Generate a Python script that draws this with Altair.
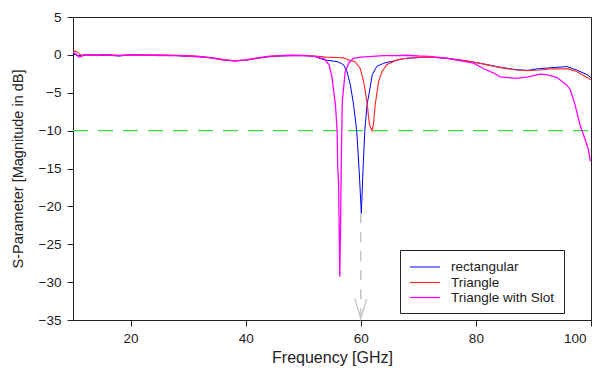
import altair as alt
import pandas as pd

# ---- data ----
rect_x = [10, 11, 12, 14, 16, 18, 20, 22, 25, 28, 30, 32, 34, 36, 38, 40, 42, 44, 46, 48, 50,
          52, 53, 54, 55, 56, 57, 57.6, 58.2, 58.75, 59.3, 59.7, 60.1, 60.4, 60.7, 61.1, 61.4,
          62, 62.8, 64, 65.7, 67.4, 69, 72, 75, 78, 81, 84, 87, 89, 90.6, 93, 95.8, 97.5, 99.3, 100]
rect_y = [0.1, -0.1, 0.0, -0.1, -0.05, -0.15, 0.0, -0.05, -0.1, -0.1, -0.2, -0.25, -0.4, -0.65, -0.8, -0.7, -0.45, -0.25, -0.15, -0.1, -0.1,
          -0.2, -0.5, -0.7, -0.8, -0.9, -1.3, -2.2, -4.0, -6.6, -10.1, -15.0, -20.9, -15.0, -10.0, -6.5, -5.3,
          -2.6, -1.5, -1.1, -0.8, -0.5, -0.4, -0.3, -0.45, -0.75, -1.15, -1.6, -1.95, -2.05, -1.85, -1.7, -1.55, -2.0, -2.6, -3.0]

tri_x = [10, 10.5, 11, 11.5, 12, 14, 16, 18, 20, 22, 25, 28, 30, 32, 34, 36, 38, 40, 42, 44, 46, 48, 50,
         52, 54, 56, 57, 58, 59, 59.9, 60.5, 61.1, 61.5, 61.95, 62.2, 62.5, 63.1, 63.7, 64.5, 66.3, 68,
         70, 72, 75, 78, 81, 84, 87, 89, 91, 93, 96, 97.5, 99.3, 100]
tri_y = [0.4, 0.5, 0.2, -0.1, 0.05, 0.0, 0.05, -0.05, 0.0, 0.0, 0.0, -0.05, -0.1, -0.2, -0.35, -0.6, -0.8, -0.7, -0.45, -0.2, -0.1, -0.05, -0.05,
         -0.15, -0.3, -0.35, -0.4, -0.7, -0.9, -1.8, -3.5, -6.4, -9.2, -10.0, -9.2, -6.6, -3.5, -2.2, -1.3, -0.66, -0.45,
         -0.35, -0.3, -0.45, -0.75, -1.15, -1.65, -2.0, -2.1, -2.0, -1.85, -1.85, -2.2, -3.0, -3.3]

slot_x = [10, 10.5, 11, 11.5, 12, 14, 16, 18, 20, 22, 25, 28, 30, 32, 34, 36, 38, 40, 42, 44, 46, 48, 50,
          52, 53, 53.6, 54.5, 55, 55.6, 55.9, 56.0, 56.15, 56.35, 56.5, 56.65, 56.8, 57.3, 57.9, 58.7,
          60, 62, 64, 66, 68, 70, 72, 74.5, 76.7, 79.6, 81.3, 83.1, 84.2, 87.1, 89, 91.2, 92.3, 94.1,
          95.8, 96.4, 97.2, 98.1, 99.0, 99.55, 99.85, 100]
slot_y = [0.3, 0.1, -0.3, -0.2, 0.0, -0.05, 0.0, -0.1, 0.0, -0.05, -0.05, -0.1, -0.15, -0.25, -0.4, -0.65, -0.8, -0.65, -0.4, -0.2, -0.1, -0.05, -0.1,
          -0.2, -0.4, -0.5, -1.3, -3.0, -6.6, -10.1, -15.0, -17.0, -29.3, -22.0, -12.0, -6.0, -2.2, -1.1, -0.45,
          -0.3, -0.2, -0.1, -0.1, -0.05, -0.15, -0.2, -0.4, -0.7, -1.1, -1.8, -2.4, -2.9, -3.1, -2.9, -2.55, -2.6, -3.0,
          -4.0, -4.6, -6.5, -9.3, -11.2, -12.5, -13.9, -14.0]

series_names = ["rectangular", "Triangle", "Triangle with Slot"]
series_colors = ["#0000ff", "#ff2a2a", "#ff00ff"]
series_widths = [1.0, 1.3, 2.6]

threshold_db = [-10]
marker_x = [60]
marker_y_top = [-20.9]
marker_y_bottom = [-34.7]
arrow_y = [-33.5]

x_ticks = [20, 40, 60, 80, 100]
y_ticks = [5, 0, -5, -10, -15, -20, -25, -30, -35]

# ---- tables ----
rows = []
for name, xs, ys in zip(series_names, [rect_x, tri_x, slot_x], [rect_y, tri_y, slot_y]):
    for i, (xv, yv) in enumerate(zip(xs, ys)):
        rows.append({"series": name, "freq": xv, "s": yv, "i": i})
df = pd.DataFrame(rows)

thr_df = pd.DataFrame({"x1": [10], "x2": [100], "y": threshold_db})
mark_df = pd.DataFrame({"x": marker_x, "y1": marker_y_top, "y2": marker_y_bottom})
arrow_df = pd.DataFrame({"x": marker_x, "y": arrow_y})

xscale = alt.Scale(domain=[10, 100], nice=False, zero=False)
yscale = alt.Scale(domain=[-35, 5], nice=False, zero=False)

font = "Liberation Sans"

x_axis = alt.Axis(values=x_ticks, title="Frequency [GHz]", grid=False, tickSize=6,
                  labelFontSize=13.5, labelFont=font, labelColor="#222", labelPadding=5,
                  labelOverlap=False, labelFlush=True, labelFlushOffset=-5,
                  titleFont=font, titleFontSize=16, titleFontWeight="normal", titleColor="#222",
                  titleY=42, titleBaseline="alphabetic",
                  domainColor="#222", tickColor="#222")
y_axis = alt.Axis(values=y_ticks, title="S-Parameter [Magnitude in dB]", grid=False, tickSize=6,
                  labelFontSize=13.5, labelFont=font, labelColor="#222", labelPadding=6,
                  labelOverlap=False,
                  titleFont=font, titleFontSize=14.5, titleFontWeight="normal", titleColor="#222",
                  titleX=-55, titleY=151.5, titleAngle=270, titleAlign="center",
                  titleBaseline="middle", domainColor="#222", tickColor="#222")

thr = alt.Chart(thr_df).mark_rule(color="#3ddc3d", strokeWidth=1.2, strokeDash=[15, 10]).encode(
    x=alt.X("x1:Q", scale=xscale, axis=x_axis), x2="x2:Q",
    y=alt.Y("y:Q", scale=yscale, axis=y_axis))

vline = alt.Chart(mark_df).mark_rule(color="#c4c4c4", strokeWidth=1.5, strokeDash=[10, 9]).encode(
    x=alt.X("x:Q", scale=xscale, axis=x_axis), y=alt.Y("y1:Q", scale=yscale, axis=y_axis), y2="y2:Q")

arrow = alt.Chart(arrow_df).mark_point(shape="M-0.6,-1L0,1L0.6,-1", size=400, filled=False,
                                       color="#c4c4c4", strokeWidth=1.3, opacity=1).encode(
    x=alt.X("x:Q", scale=xscale, axis=x_axis), y=alt.Y("y:Q", scale=yscale, axis=y_axis))

legend_cfg = dict(title=None, orient="none", legendX=327, legendY=233,
                  symbolType="M-1,0L3,0", symbolSize=225, labelFont=font,
                  labelFontSize=13.5, labelColor="#222", labelOffset=25,
                  padding=9, rowPadding=0, strokeColor="#222",
                  fillColor="white", labelLimit=300)

lines = alt.Chart(df).mark_line(clip=True).encode(
    x=alt.X("freq:Q", scale=xscale, axis=x_axis),
    y=alt.Y("s:Q", scale=yscale, axis=y_axis),
    order="i:Q",
    color=alt.Color("series:N", scale=alt.Scale(domain=series_names, range=series_colors),
                    legend=alt.Legend(**legend_cfg)),
    strokeWidth=alt.StrokeWidth("series:N", scale=alt.Scale(domain=series_names, range=series_widths),
                                legend=alt.Legend(**legend_cfg)),
)

chart = alt.layer(thr, vline, arrow, lines).properties(
    width=518, height=303,
    autosize=alt.AutoSizeParams(type="none"),
    padding={"left": 65, "top": 9, "right": 4, "bottom": 46},
    background="white",
).configure_view(stroke="#222", strokeWidth=1).configure_axis(labelOverlap=False)

chart.save("out.html", embed_options={"renderer": "svg", "actions": False})
